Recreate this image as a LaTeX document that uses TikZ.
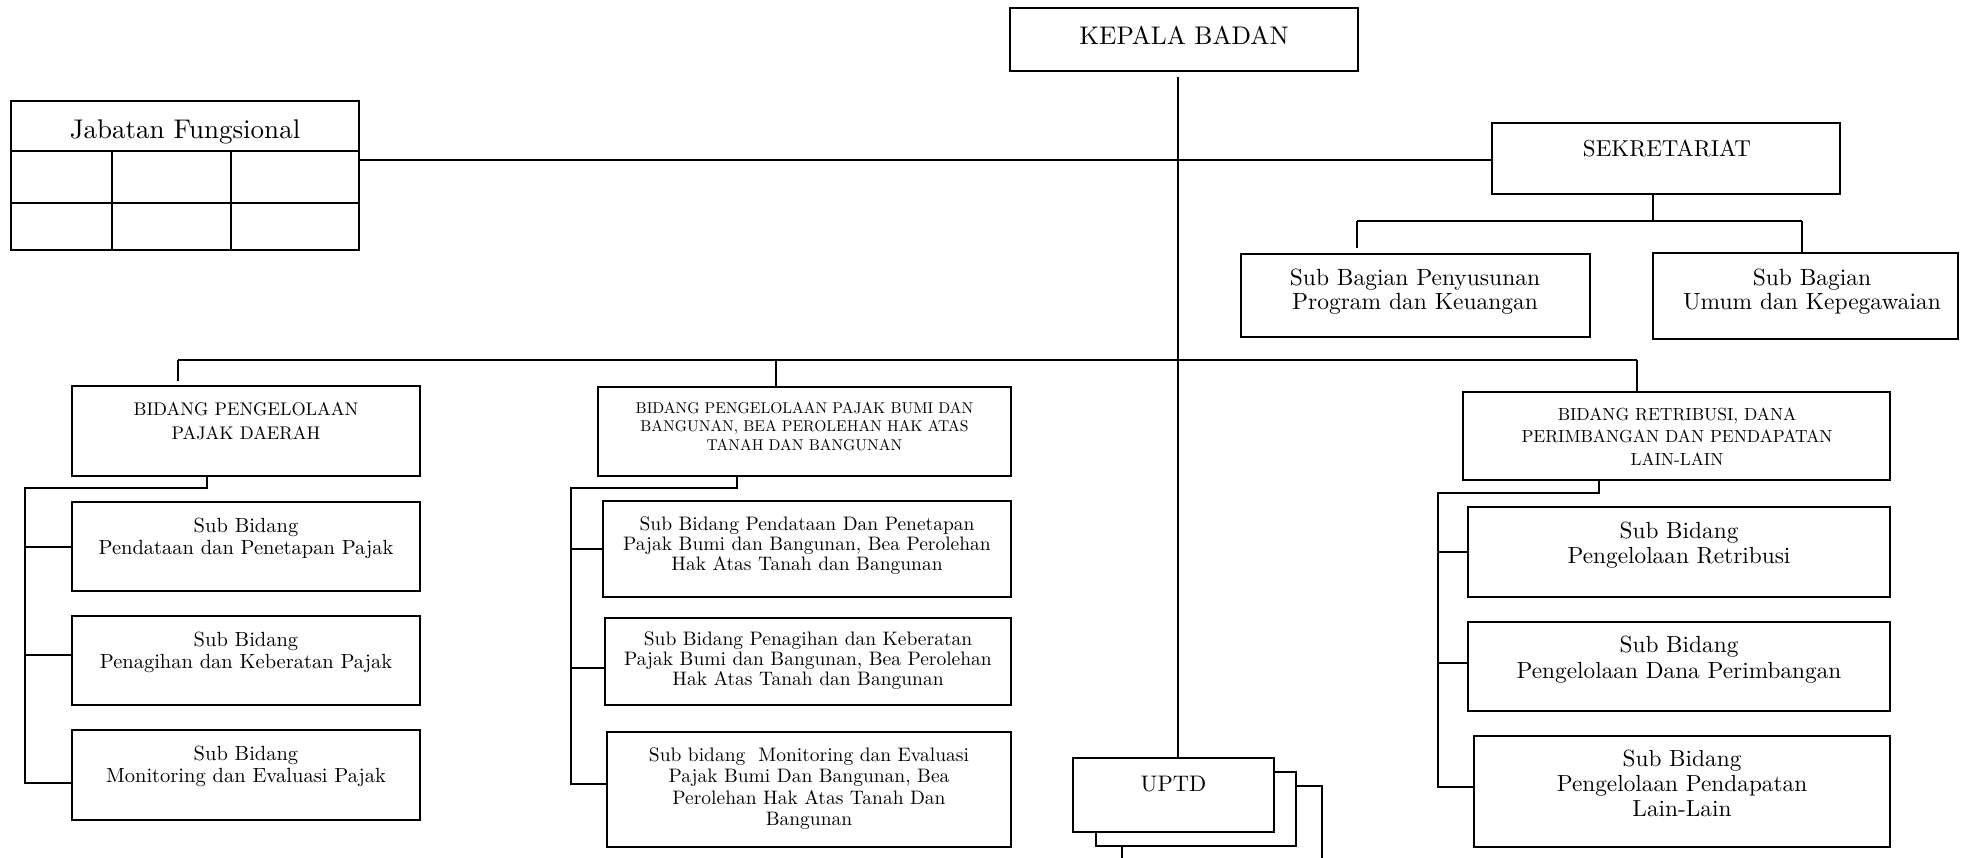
\documentclass[tikz,border=0pt]{standalone}
\usepackage{fontspec}
% the 10pt design of Latin Modern at every size
\setmainfont{lmroman10-regular.otf}
\newcommand\fs[2]{\fontsize{#1}{#2}\selectfont}
% stacked centred lines whose reference point is the first baseline
\newcommand\lines[1]{\begin{tabular}[t]{@{}c@{}}#1\end{tabular}}
% box spanning the corners (x1,y1)-(x2,y2), pixel units with y growing downwards
\newcommand\orgbox[5]{\node[box, minimum width={#4-#2}, minimum height={#5-#3}] (#1) at ({(#2+#4)/2},{(#3+#5)/2}) {};}
\tikzset{
  box/.style={draw, line width=1.7pt, fill=white, rectangle, inner sep=0pt, outer sep=0pt},
  link/.style={line width=1.7pt},
  lbl/.style={anchor=base, inner sep=0pt}
}
\begin{document}
\begin{tikzpicture}[x=1pt, y=-1pt]
\clip (0,0) rectangle (1961,857);

% ---------- top level ----------
\orgbox{kb}{1010}{8}{1358}{71}
\node[lbl, font=\fs{25.5}{30}] (kbT) at (1184,44) {KEPALA BADAN};

\orgbox{jf}{11}{101}{359}{250}
\draw[link] (jf.west |- 0,151) -- (jf.east |- 0,151);
\draw[link] (jf.west |- 0,203) -- (jf.east |- 0,203);
\draw[link] (112,151) -- (112,250);
\draw[link] (231,151) -- (231,250);
\node[lbl, font=\fs{27}{30}] (jfT) at (185,138) {Jabatan Fungsional};

\orgbox{sek}{1492}{123}{1840}{194}
\node[lbl, font=\fs{23}{28}] (sekT) at (1667,156) {SEKRETARIAT};

\orgbox{sbp}{1241}{254}{1590}{337}
\node[lbl, font=\fs{23.5}{24}] (sbpT) at (1415,285) {\lines{Sub Bagian Penyusunan\\Program dan Keuangan}};
\orgbox{sbu}{1653}{253}{1958}{339}
\node[lbl, font=\fs{23.5}{24}] (sbuT) at (1812,285) {\lines{Sub Bagian\\Umum dan Kepegawaian}};

% ---------- bidang ----------
\orgbox{b1}{72}{386}{420}{476}
\node[lbl, font=\fs{18.3}{24}] (b1T) at (246,415) {\lines{BIDANG PENGELOLAAN\\PAJAK DAERAH}};
\orgbox{s11}{72}{502}{420}{591}
\node[lbl, font=\fs{20.5}{22}] (s11T) at (246,532) {\lines{Sub Bidang\\Pendataan dan Penetapan Pajak}};
\orgbox{s12}{72}{616}{420}{705}
\node[lbl, font=\fs{20.5}{22}] (s12T) at (246,646) {\lines{Sub Bidang\\Penagihan dan Keberatan Pajak}};
\orgbox{s13}{72}{730}{420}{820}
\node[lbl, font=\fs{20.5}{22}] (s13T) at (246,760) {\lines{Sub Bidang\\Monitoring dan Evaluasi Pajak}};

\orgbox{b2}{598}{387}{1011}{476}
\node[lbl, font=\fs{15.6}{18.5}] (b2T) at (804.5,413) {\lines{BIDANG PENGELOLAAN PAJAK BUMI DAN\\BANGUNAN, BEA PEROLEHAN HAK ATAS\\TANAH DAN BANGUNAN}};
\orgbox{s21}{603}{501}{1011}{597}
\node[lbl, font=\fs{19.5}{20.2}] (s21T) at (807,530) {\lines{Sub Bidang Pendataan Dan Penetapan\\Pajak Bumi dan Bangunan, Bea Perolehan\\Hak Atas Tanah dan Bangunan}};
\orgbox{s22}{605}{618}{1011}{705}
\node[lbl, font=\fs{19.5}{20.2}] (s22T) at (808,645) {\lines{Sub Bidang Penagihan dan Keberatan\\Pajak Bumi dan Bangunan, Bea Perolehan\\Hak Atas Tanah dan Bangunan}};
\orgbox{s23}{607}{732}{1011}{847}
\node[lbl, font=\fs{19.5}{21.5}] (s23T) at (809,761) {\lines{Sub bidang~ Monitoring dan Evaluasi\\Pajak Bumi Dan Bangunan, Bea\\Perolehan Hak Atas Tanah Dan\\Bangunan}};

\orgbox{b3}{1463}{392}{1890}{480}
\node[lbl, font=\fs{17.5}{22.5}] (b3T) at (1677,420) {\lines{BIDANG RETRIBUSI, DANA\\PERIMBANGAN DAN PENDAPATAN\\LAIN-LAIN}};
\orgbox{s31}{1468}{507}{1890}{597}
\node[lbl, font=\fs{23.3}{25}] (s31T) at (1679,538) {\lines{Sub Bidang\\Pengelolaan Retribusi}};
\orgbox{s32}{1468}{622}{1890}{711}
\node[lbl, font=\fs{23.3}{26}] (s32T) at (1679,652) {\lines{Sub Bidang\\Pengelolaan Dana Perimbangan}};
\orgbox{s33}{1474}{736}{1890}{847}
\node[lbl, font=\fs{23.3}{25}] (s33T) at (1682,766) {\lines{Sub Bidang\\Pengelolaan Pendapatan\\Lain-Lain}};

% ---------- UPTD stack ----------
\orgbox{uptdC}{1122}{786}{1322}{900}
\orgbox{uptdB}{1096}{772}{1296}{846}
\orgbox{uptd}{1073}{758}{1274}{832}
\node[lbl, font=\fs{22.5}{26}] (uptdT) at (1173.5,791) {UPTD};

% ---------- connectors ----------
\coordinate (spineTop) at (1178,77);
\draw[link] (spineTop) -- (spineTop |- uptd.north);
\coordinate (jfLine) at (0,160);
\draw[link] (sek.west |- jfLine) -- (jf.east |- jfLine);

\coordinate (sekJ) at (1653,221);
\coordinate (sbpJ) at (1357,221);
\coordinate (sbuJ) at (1802,221);
\coordinate (sbpTop) at ([yshift=6pt]sbpJ |- sbp.north);
\draw[link] (sekJ |- sek.south) -- (sekJ);
\draw[link] (sbpJ) -- (sbuJ);
\draw[link] (sbpJ) -- (sbpTop);
\draw[link] (sbuJ) -- (sbuJ |- sbu.north);

\coordinate (busL) at (178,360);
\coordinate (busM) at (776,360);
\coordinate (busR) at (1637,360);
\coordinate (b1Top) at ([yshift=5pt]busL |- b1.north);
\draw[link] (busL) -- (busR);
\draw[link] (busL) -- (b1Top);
\draw[link] (busM) -- (busM |- b2.north);
\draw[link] (busR) -- (busR |- b3.north);

% left group
\coordinate (g1) at (207,488);
\coordinate (g1L) at (25,488);
\coordinate (s11B) at ([yshift=-0.5pt]s11.west);
\coordinate (s12B) at ([yshift=5.5pt]s12.west);
\coordinate (s13B) at ([yshift=-8pt]s13.west);
\draw[link] (g1 |- b1.south) -- (g1) -- (g1L) |- (s13B);
\draw[link] (g1L |- s11B) -- (s11B);
\draw[link] (g1L |- s12B) -- (s12B);

% middle group
\coordinate (g2) at (737,488);
\coordinate (g2L) at (571,488);
\coordinate (s22B) at ([yshift=-6.5pt]s22.west);
\coordinate (s23B) at ([yshift=5.5pt]s23.west);
\draw[link] (g2 |- b2.south) -- (g2) -- (g2L) |- (s23B);
\draw[link] (g2L |- s21.west) -- (s21.west);
\draw[link] (g2L |- s22B) -- (s22B);

% right group
\coordinate (g3) at (1599,493);
\coordinate (g3L) at (1438,493);
\coordinate (s32B) at ([yshift=3.5pt]s32.west);
\coordinate (s33B) at ([yshift=4.5pt]s33.west);
\draw[link] (g3 |- b3.south) -- (g3) -- (g3L) |- (s33B);
\draw[link] (g3L |- s31.west) -- (s31.west);
\draw[link] (g3L |- s32B) -- (s32B);
\end{tikzpicture}
\end{document}
